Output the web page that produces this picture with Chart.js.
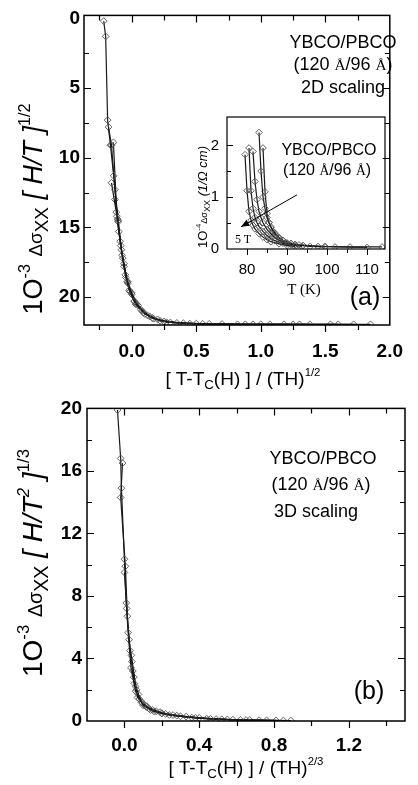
<!DOCTYPE html>
<html>
<head>
<meta charset="utf-8">
<script src="https://cdn.jsdelivr.net/npm/chart.js@4.4.1/dist/chart.umd.min.js"></script>
<style>
body { margin: 0; background: #fff; }
#wrap { position: relative; width: 418px; height: 785px; overflow: hidden; font-family: "Liberation Sans", Arial, sans-serif; color: #000; }
canvas { position: absolute; }
.t { position: absolute; white-space: nowrap; line-height: 1; transform: translate(-50%, -50%); }
.r { transform: translate(-50%, -50%) rotate(-90deg); }
sup { font-size: .6em; position: relative; top: -.75em; vertical-align: baseline; }
sub { font-size: .7em; position: relative; top: .3em; vertical-align: baseline; }
.sm { font-size: .7em; }
.ang { font-family: "Liberation Serif", serif; font-size: .85em; }
.serif { font-family: "Liberation Serif", serif; }
</style>
</head>
<body>
<div id="wrap">
  <canvas id="cA" width="418" height="392" style="left:0;top:0"></canvas>
  <canvas id="cI" width="215" height="200" style="left:180px;top:100px"></canvas>
  <canvas id="cB" width="418" height="393" style="left:0;top:392px"></canvas>

  <div class="t r" style="left:33px;top:209px;font-size:27px">1O<sup>-3</sup> <span class="sm">Δσ</span><sub>XX</sub> <i>[ H/T ]</i><sup>1/2</sup></div>
  <div class="t" style="left:243px;top:378px;font-size:19px">[ T-T<sub>C</sub>(H) ] / (TH)<sup>1/2</sup></div>
  <div class="t" style="left:343px;top:42px;font-size:18px">YBCO/PBCO</div>
  <div class="t" style="left:343px;top:64px;font-size:18px">(120 <span class="ang">Å</span>/96 <span class="ang">Å</span>)</div>
  <div class="t" style="left:343px;top:87px;font-size:18px">2D scaling</div>
  <div class="t" style="left:365px;top:296px;font-size:25px">(a)</div>

  <div class="t r" style="left:203px;top:197px;font-size:13px">1O<sup>-4</sup><span class="sm">Δσ</span><sub>XX</sub> <i>(1/Ω cm)</i></div>
  <div class="t serif" style="left:304px;top:289px;font-size:15px">T (K)</div>
  <div class="t" style="left:329px;top:150px;font-size:16px">YBCO/PBCO</div>
  <div class="t" style="left:327px;top:170px;font-size:16px">(120 <span class="ang">Å</span>/96 <span class="ang">Å</span>)</div>
  <div class="t serif" style="left:243px;top:239px;font-size:12px">5 T</div>

  <div class="t r" style="left:33px;top:563px;font-size:28px">1O<sup>-3</sup> <span class="sm">Δσ</span><sub>XX</sub> <i>[ H/T<sup>2</sup> ]</i><sup>1/3</sup></div>
  <div class="t" style="left:246px;top:767px;font-size:19px">[ T-T<sub>C</sub>(H) ] / (TH)<sup>2/3</sup></div>
  <div class="t" style="left:323px;top:458px;font-size:18px">YBCO/PBCO</div>
  <div class="t" style="left:321px;top:484px;font-size:18px">(120 <span class="ang">Å</span>/96 <span class="ang">Å</span>)</div>
  <div class="t" style="left:316px;top:511px;font-size:18px">3D scaling</div>
  <div class="t" style="left:369px;top:690px;font-size:25px">(b)</div>
</div>
<script>
// panel (a): 2D scaling, x = [T-Tc(H)]/(TH)^1/2, one curve per field
const aX1 = [-0.217, -0.202, -0.187, -0.165, -0.14, -0.11, -0.07, -0.03, 0.02, 0.08, 0.16, 0.27, 0.45, 0.82, 1.25]
const aY1 = [0.2, 1.3, 7.3, 9.1, 11.3, 14.4, 17.2, 19.0, 20.3, 21.0, 21.5, 21.8, 21.9, 21.95, 21.95]
const aX2 = [-0.18, -0.157, -0.13, -0.105, -0.08, -0.05, -0.02, 0.03, 0.1, 0.2, 0.35, 0.6, 0.94, 1.38]
const aY2 = [7.8, 9.1, 12.3, 14.5, 16.6, 18.4, 19.5, 20.5, 21.2, 21.6, 21.85, 21.92, 21.95, 21.95]
const aX3 = [-0.157, -0.12, -0.09, -0.06, -0.03, 0.0, 0.05, 0.12, 0.22, 0.4, 0.7, 1.07, 1.6]
const aY3 = [11.8, 13.9, 16.0, 17.8, 18.9, 19.7, 20.6, 21.3, 21.7, 21.88, 21.93, 21.95, 21.95]
const aX4 = [-0.142, -0.115, -0.1, -0.075, -0.045, -0.015, 0.02, 0.07, 0.14, 0.25, 0.5, 0.88, 1.18, 1.72]
const aY4 = [8.9, 14.2, 15.3, 17.0, 18.6, 19.6, 20.3, 20.9, 21.4, 21.75, 21.9, 21.95, 21.95, 21.95]
const aX5 = [-0.13, -0.105, -0.085, -0.06, -0.035, 0.0, 0.04, 0.09, 0.17, 0.3, 0.55, 1.0, 1.3, 1.54, 1.85]
const aY5 = [13.0, 14.6, 16.3, 17.6, 18.9, 19.8, 20.5, 21.1, 21.55, 21.82, 21.92, 21.95, 21.95, 21.95, 21.95]
const aXTicks = [0, 0.5, 1, 1.5, 2]
const aXLabels = ['0.0', '0.5', '1.0', '1.5', '2.0']
const aYTicks = [0, 5, 10, 15, 20]
const aYLabels = ['0', '5', '10', '15', '20']

// inset: raw data vs T (K), 1T .. 5T
const iX1 = [79.5, 80, 80.5, 81, 81.5, 82, 83, 84, 85, 86, 88, 90, 92]
const iY1 = [1.82, 1.12, 0.72, 0.55, 0.45, 0.38, 0.29, 0.22, 0.17, 0.13, 0.09, 0.06, 0.04]
const iX2 = [80.5, 81, 81.5, 82, 82.5, 83, 84, 85, 86, 87, 89, 91, 93.75]
const iY2 = [1.95, 1.12, 0.78, 0.6, 0.5, 0.43, 0.33, 0.25, 0.19, 0.15, 0.1, 0.07, 0.04]
const iX3 = [81.5, 82, 82.5, 83, 83.5, 84, 85, 86, 87, 88, 90, 92, 95.75, 99.5]
const iY3 = [1.88, 1.3, 0.95, 0.72, 0.6, 0.5, 0.37, 0.28, 0.21, 0.16, 0.1, 0.07, 0.04, 0.03]
const iX4 = [83, 83.5, 84, 84.5, 85, 85.5, 86, 87, 88, 89, 91, 93, 97.75, 102, 110]
const iY4 = [2.25, 1.5, 1.0, 0.78, 0.6, 0.5, 0.42, 0.3, 0.22, 0.16, 0.1, 0.07, 0.04, 0.03, 0.02]
const iX5 = [84, 84.5, 85, 85.5, 86, 86.5, 87, 88, 89, 90, 92, 94, 99.5, 105.75, 113.75]
const iY5 = [1.95, 1.1, 0.68, 0.5, 0.4, 0.33, 0.27, 0.2, 0.15, 0.11, 0.08, 0.06, 0.04, 0.03, 0.03]
const iXTicks = [80, 90, 100, 110]
const iXLabels = ['80', '90', '100', '110']
const iYTicks = [0, 1, 2]
const iYLabels = ['0', '1', '2']
const arrowFrom = [92.5, 1.04]
const arrowTo = [78.5, 0.42]

// panel (b): 3D scaling, x = [T-Tc(H)]/(TH)^2/3
const bX1 = [-0.037, -0.02, -0.016, 0.0, 0.01, 0.02, 0.035, 0.06, 0.1, 0.16, 0.24, 0.36, 0.49, 0.65, 0.85]
const bY1 = [19.9, 16.8, 14.9, 10.35, 7.55, 5.65, 3.4, 1.9, 1.0, 0.6, 0.38, 0.22, 0.12, 0.06, 0.03]
const bX2 = [-0.01, -0.02, 0.005, 0.016, 0.03, 0.053, 0.09, 0.14, 0.2, 0.3, 0.44, 0.58, 0.76]
const bY2 = [16.5, 14.3, 9.9, 6.7, 4.5, 2.4, 1.2, 0.7, 0.48, 0.3, 0.15, 0.08, 0.04]
const bX3 = [0.0, 0.012, 0.025, 0.037, 0.07, 0.117, 0.19, 0.26, 0.4, 0.55, 0.72, 0.89]
const bY3 = [9.5, 7.2, 5.2, 4.2, 1.5, 0.9, 0.57, 0.38, 0.2, 0.1, 0.05, 0.03]
const bX4 = [0.04, 0.05, 0.065, 0.08, 0.105, 0.13, 0.17, 0.22, 0.33, 0.46, 0.62, 0.81]
const bY4 = [3.8, 2.8, 2.0, 1.4, 1.05, 0.8, 0.62, 0.45, 0.28, 0.14, 0.07, 0.04]
const bX5 = [0.045, 0.06, 0.075, 0.095, 0.12, 0.15, 0.2, 0.28, 0.38, 0.52, 0.67]
const bY5 = [3.2, 2.2, 1.7, 1.2, 0.95, 0.72, 0.5, 0.34, 0.2, 0.11, 0.06]
const bXTicks = [0, 0.4, 0.8, 1.2]
const bXLabels = ['0.0', '0.4', '0.8', '1.2']
const bYTicks = [0, 4, 8, 12, 16, 20]
const bYLabels = ['0', '4', '8', '12', '16', '20']

// box round the plot, ticks inside except on the bottom edge
const framePlugin = {
    id: 'frame',
    afterDatasetsDraw(chart, args, o) {
        const {ctx, chartArea: a, scales: {x, y}} = chart
        ctx.save()
        ctx.strokeStyle = '#000'
        ctx.lineWidth = o.lw
        ctx.strokeRect(a.left, a.top, a.right - a.left, a.bottom - a.top)
        ctx.lineWidth = o.tw
        ctx.beginPath()
        const xt = o.xMajor.map(v => [v, o.len]).concat(o.xMinor.map(v => [v, o.minLen]))
        const yt = o.yMajor.map(v => [v, o.len]).concat(o.yMinor.map(v => [v, o.minLen]))
        xt.forEach(([v, l]) => {
            const p = Math.round(x.getPixelForValue(v)) + 0.5
            ctx.moveTo(p, a.bottom); ctx.lineTo(p, a.bottom + l)
            if (o.top) { ctx.moveTo(p, a.top); ctx.lineTo(p, a.top + l) }
        })
        yt.forEach(([v, l]) => {
            const p = Math.round(y.getPixelForValue(v)) + 0.5
            ctx.moveTo(a.left, p); ctx.lineTo(a.left + l, p)
            if (o.right) { ctx.moveTo(a.right, p); ctx.lineTo(a.right - l, p) }
        })
        ctx.stroke()
        ctx.restore()
    }
}

const arrowPlugin = {
    id: 'arrow',
    afterDatasetsDraw(chart, args, o) {
        if (!o || !o.from) return
        const {ctx, scales: {x, y}} = chart
        const x0 = x.getPixelForValue(o.from[0]), y0 = y.getPixelForValue(o.from[1])
        const x1 = x.getPixelForValue(o.to[0]), y1 = y.getPixelForValue(o.to[1])
        const ang = Math.atan2(y1 - y0, x1 - x0)
        ctx.save()
        ctx.strokeStyle = '#000'
        ctx.lineWidth = 1
        ctx.beginPath(); ctx.moveTo(x0, y0); ctx.lineTo(x1, y1); ctx.stroke()
        ctx.fillStyle = '#000'
        ctx.beginPath()
        ctx.moveTo(x1, y1)
        ctx.lineTo(x1 - 9 * Math.cos(ang - 0.4), y1 - 9 * Math.sin(ang - 0.4))
        ctx.lineTo(x1 - 9 * Math.cos(ang + 0.4), y1 - 9 * Math.sin(ang + 0.4))
        ctx.closePath(); ctx.fill()
        ctx.restore()
    }
}

function panel(id, cfg) {
    const sets = cfg.sets.map(([xs, ys]) => ({
        data: xs.map((v, i) => ({x: v, y: ys[i]})),
        showLine: true,
        borderColor: '#1a1a1a',
        borderWidth: 1.2,
        pointStyle: 'rectRot',
        pointRadius: cfg.r,
        pointBorderColor: '#555',
        pointBorderWidth: 0.9,
        pointBackgroundColor: 'rgba(255,255,255,0)'
    }))
    return new Chart(document.getElementById(id), {
        type: 'scatter',
        data: {datasets: sets},
        options: {
            responsive: false,
            animation: false,
            devicePixelRatio: 1,
            layout: {padding: cfg.pad},
            plugins: {
                legend: {display: false},
                tooltip: {enabled: false},
                frame: cfg.frame,
                arrow: cfg.arrow || {}
            },
            scales: {
                x: {
                    type: 'linear', min: cfg.x[0], max: cfg.x[1],
                    grid: {display: false, drawTicks: false},
                    border: {display: false},
                    afterFit: s => { s.height = cfg.xH },
                    afterBuildTicks: s => { s.ticks = cfg.xTicks.map(v => ({value: v})) },
                    ticks: {font: cfg.font, color: '#000', padding: cfg.xPad, maxRotation: 0, autoSkip: false,
                        callback: (v, i) => cfg.xLabels[i]}
                },
                y: {
                    type: 'linear', min: cfg.y[0], max: cfg.y[1], reverse: !!cfg.rev,
                    grid: {display: false, drawTicks: false},
                    border: {display: false},
                    afterFit: s => { s.width = cfg.yW },
                    afterBuildTicks: s => { s.ticks = cfg.yTicks.map(v => ({value: v})) },
                    ticks: {font: cfg.font, color: '#000', padding: cfg.yPad, autoSkip: false,
                        callback: (v, i) => cfg.yLabels[i]}
                }
            }
        },
        plugins: [framePlugin, arrowPlugin]
    })
}

const bigFont = {family: 'Liberation Sans', size: 19, weight: 'bold'}

panel('cA', {
    sets: [[aX1, aY1], [aX2, aY2], [aX3, aY3], [aX4, aY4], [aX5, aY5]],
    x: [-0.37, 2.0], y: [-0.21, 22], rev: true,
    xTicks: aXTicks, xLabels: aXLabels, yTicks: aYTicks, yLabels: aYLabels,
    pad: {left: 0, top: 10, right: 18, bottom: 0}, yW: 84, xH: 67,
    font: bigFont, xPad: 15, yPad: 4, r: 3.4,
    frame: {lw: 1.5, tw: 1.2, len: 7, minLen: 5, top: true, right: true,
        xMajor: [0, 0.5, 1, 1.5], xMinor: [-0.25, 0.25, 0.75, 1.25, 1.75],
        yMajor: [5, 10, 15, 20], yMinor: [2.5, 7.5, 12.5, 17.5]}
})

panel('cI', {
    sets: [[iX1, iY1], [iX2, iY2], [iX3, iY3], [iX4, iY4], [iX5, iY5]],
    x: [75, 114.5], y: [-0.01, 2.55],
    xTicks: iXTicks, xLabels: iXLabels, yTicks: iYTicks, yLabels: iYLabels,
    pad: {left: 0, top: 17, right: 10, bottom: 0}, yW: 47, xH: 51,
    font: {family: 'Liberation Sans', size: 15}, xPad: 12, yPad: 8, r: 3.3,
    frame: {lw: 1.2, tw: 1, len: 6, minLen: 4, top: false, right: false,
        xMajor: [80, 90, 100, 110], xMinor: [85, 95, 105],
        yMajor: [1, 2], yMinor: [0.5, 1.5]},
    arrow: {from: arrowFrom, to: arrowTo}
})

panel('cB', {
    sets: [[bX1, bY1], [bX2, bY2], [bX3, bY3], [bX4, bY4], [bX5, bY5]],
    x: [-0.2, 1.5], y: [0, 20],
    xTicks: bXTicks, xLabels: bXLabels, yTicks: bYTicks, yLabels: bYLabels,
    pad: {left: 0, top: 14, right: 13, bottom: 0}, yW: 87, xH: 64,
    font: bigFont, xPad: 13, yPad: 5, r: 3.4,
    frame: {lw: 1.5, tw: 1.2, len: 7, minLen: 5, top: true, right: true,
        xMajor: [0, 0.4, 0.8, 1.2], xMinor: [0.2, 0.6, 1.0, 1.4],
        yMajor: [4, 8, 12, 16], yMinor: [2, 6, 10, 14, 18]}
})
</script>
</body>
</html>
